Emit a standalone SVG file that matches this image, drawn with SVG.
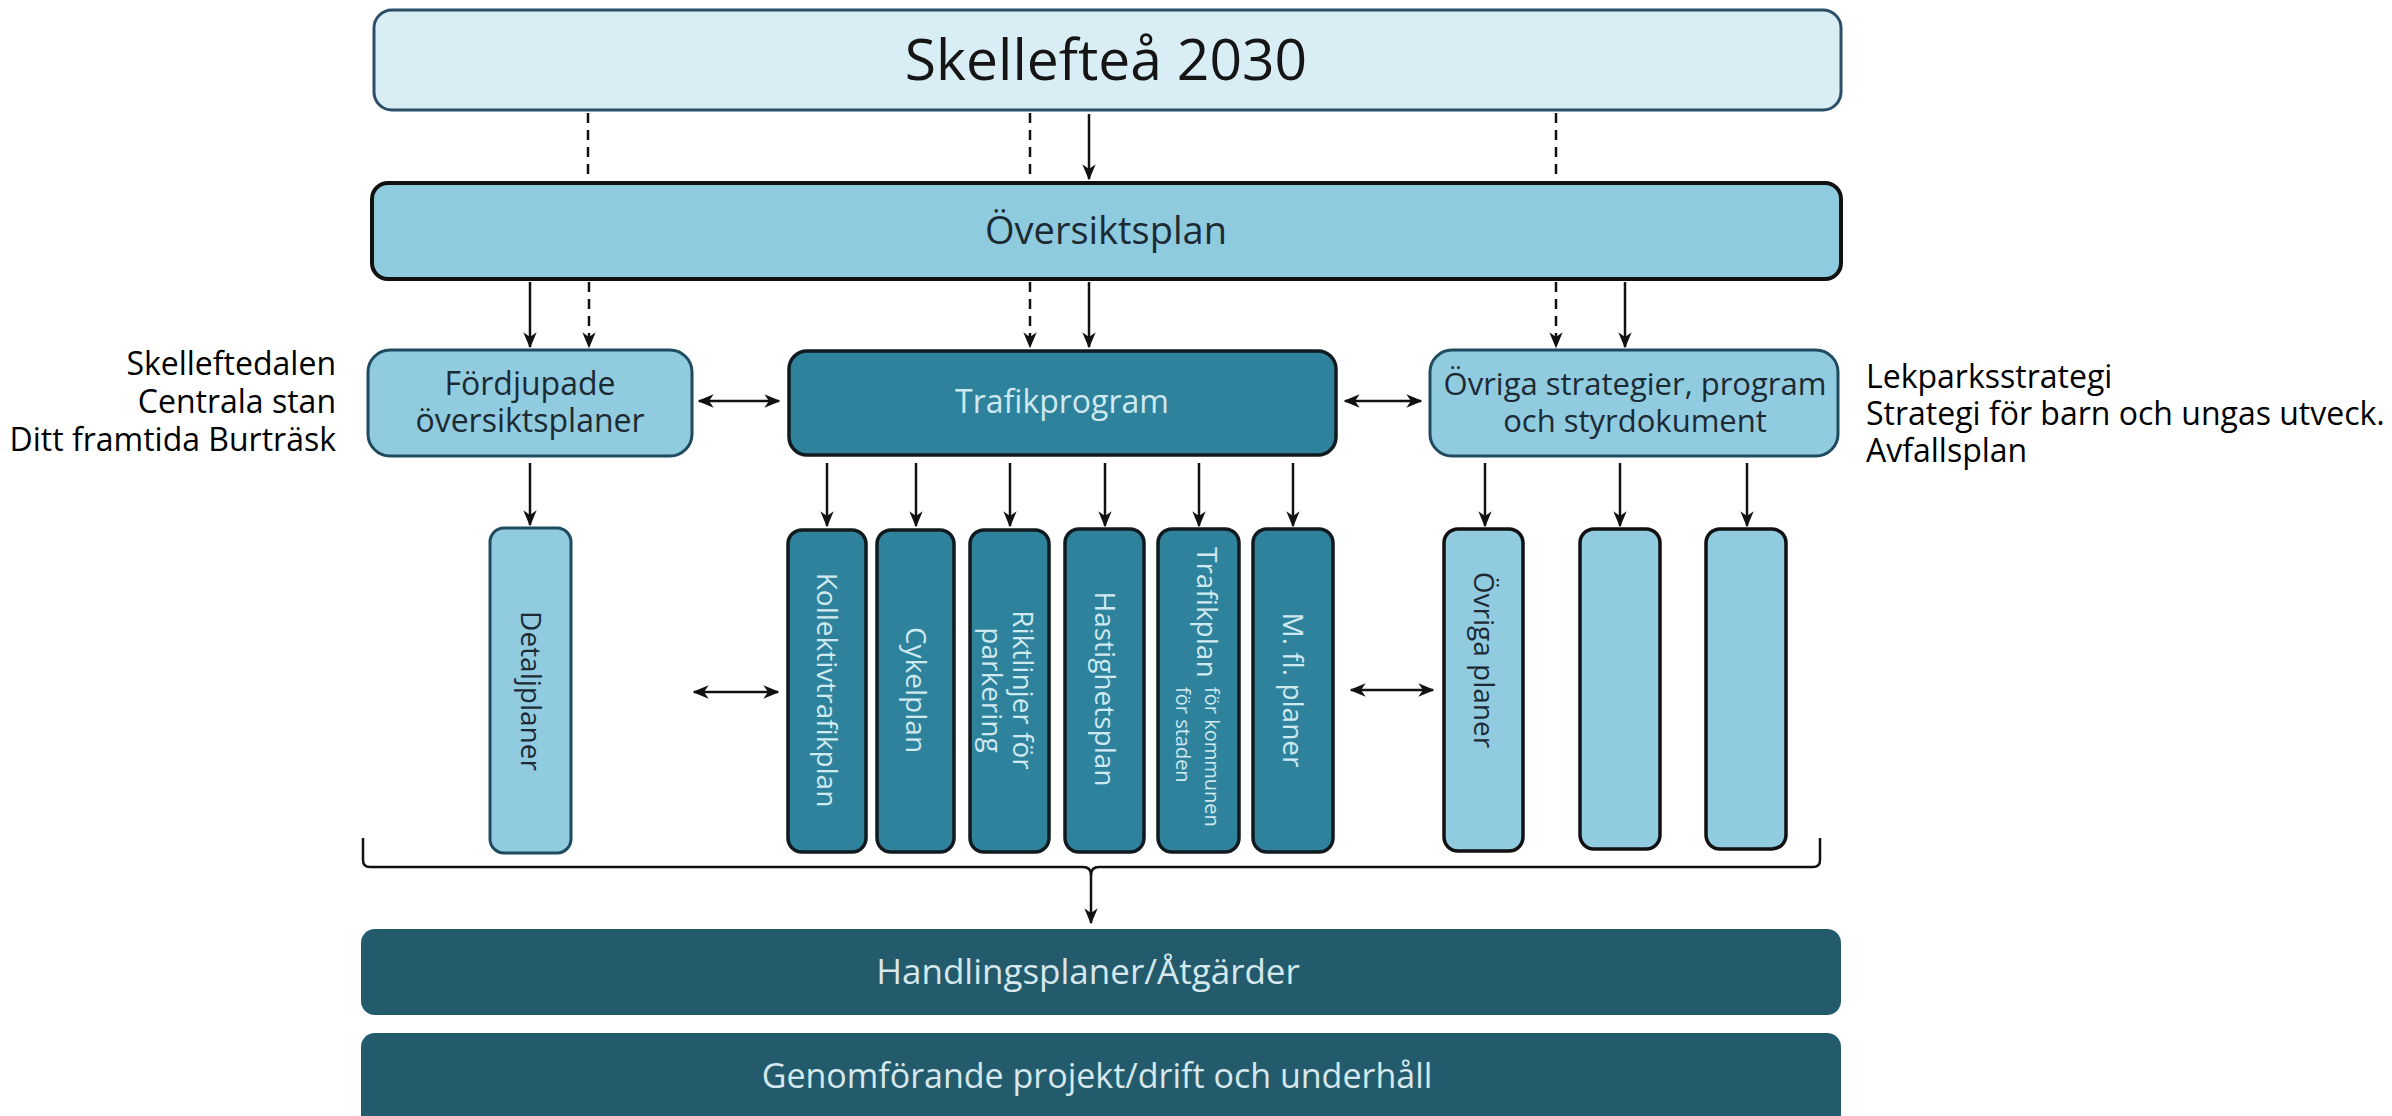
<svg xmlns="http://www.w3.org/2000/svg" width="2392" height="1116" viewBox="0 0 2392 1116">
<style>
  text { font-family: "Open Sans", "Noto Sans", "DejaVu Sans", sans-serif; }
  .light { fill: #90cbe0; stroke: #1f4b5f; stroke-width: 3; }
  .teal { fill: #2e829c; stroke: #111a1f; stroke-width: 3.5; }
  .dark { fill: #235b6c; stroke: none; }
  .tl { fill: #cfe9f0; }
  .td { fill: #1c2a33; }
  .side { font-size: 32px; fill: #000; }
  .vt { font-size: 28px; text-anchor: middle; }
  .conn { stroke: #111; stroke-width: 2.5; fill: none; }
  .dash { stroke-dasharray: 10 7; }
</style>
<defs>
  <marker id="ah" viewBox="0 0 12 10" markerWidth="16" markerHeight="14" refX="11" refY="5" orient="auto-start-reverse" markerUnits="userSpaceOnUse">
    <path d="M0,0 L12,5 L0,10 L3.5,5 z" fill="#111"/>
  </marker>
</defs>

<g id="connectors">
  <line class="conn dash" x1="588" y1="113" x2="588" y2="183"/>
  <line class="conn dash" x1="1030" y1="113" x2="1030" y2="183"/>
  <line class="conn dash" x1="1556" y1="113" x2="1556" y2="183"/>
  <line class="conn" x1="1089" y1="114" x2="1089" y2="179" marker-end="url(#ah)"/>
  <line class="conn" x1="530" y1="282" x2="530" y2="347" marker-end="url(#ah)"/>
  <line class="conn dash" x1="589" y1="282" x2="589" y2="347" marker-end="url(#ah)"/>
  <line class="conn dash" x1="1030" y1="282" x2="1030" y2="347" marker-end="url(#ah)"/>
  <line class="conn" x1="1089" y1="282" x2="1089" y2="347" marker-end="url(#ah)"/>
  <line class="conn dash" x1="1556" y1="282" x2="1556" y2="347" marker-end="url(#ah)"/>
  <line class="conn" x1="1625" y1="282" x2="1625" y2="347" marker-end="url(#ah)"/>
  <line class="conn" x1="699" y1="401" x2="779" y2="401" marker-start="url(#ah)" marker-end="url(#ah)"/>
  <line class="conn" x1="1345" y1="401" x2="1421" y2="401" marker-start="url(#ah)" marker-end="url(#ah)"/>
  <line class="conn" x1="694" y1="692" x2="778" y2="692" marker-start="url(#ah)" marker-end="url(#ah)"/>
  <line class="conn" x1="1351" y1="690" x2="1433" y2="690" marker-start="url(#ah)" marker-end="url(#ah)"/>
  <line class="conn" x1="530" y1="463" x2="530" y2="525" marker-end="url(#ah)"/>
  <line class="conn" x1="827" y1="463" x2="827" y2="526" marker-end="url(#ah)"/>
  <line class="conn" x1="916" y1="463" x2="916" y2="526" marker-end="url(#ah)"/>
  <line class="conn" x1="1010" y1="463" x2="1010" y2="526" marker-end="url(#ah)"/>
  <line class="conn" x1="1105" y1="463" x2="1105" y2="526" marker-end="url(#ah)"/>
  <line class="conn" x1="1199" y1="463" x2="1199" y2="526" marker-end="url(#ah)"/>
  <line class="conn" x1="1293" y1="463" x2="1293" y2="526" marker-end="url(#ah)"/>
  <line class="conn" x1="1485" y1="463" x2="1485" y2="526" marker-end="url(#ah)"/>
  <line class="conn" x1="1620" y1="463" x2="1620" y2="526" marker-end="url(#ah)"/>
  <line class="conn" x1="1747" y1="463" x2="1747" y2="526" marker-end="url(#ah)"/>
  <path class="conn" d="M363,838 V860 Q363,867 370,867 H1083 Q1091,867 1091,875 Q1091,867 1099,867 H1813 Q1820,867 1820,860 V838"/>
  <line class="conn" x1="1091" y1="874" x2="1091" y2="923" marker-end="url(#ah)"/>
</g>

<g id="skelleftea2030">
  <rect x="374" y="10" width="1467" height="100" rx="18" fill="#d9edf4" stroke="#2b4f68" stroke-width="3"/>
  <text x="1106" y="80" font-size="57" text-anchor="middle" fill="#151515">Skellefteå 2030</text>
</g>

<g id="oversiktsplan">
  <rect x="372" y="183" width="1469" height="96" rx="16" fill="#8fcbdf" stroke="#111" stroke-width="4"/>
  <text x="1106" y="244" font-size="38" text-anchor="middle" fill="#1c2a33">Översiktsplan</text>
</g>

<g id="fordjupade">
  <rect class="light" x="368" y="350" width="324" height="106" rx="22"/>
  <text class="td" x="530" y="395" font-size="32" text-anchor="middle">Fördjupade</text>
  <text class="td" x="530" y="432" font-size="32" text-anchor="middle">översiktsplaner</text>
</g>

<g id="trafikprogram">
  <rect class="teal" x="789" y="351" width="547" height="104" rx="18"/>
  <text class="tl" x="1062" y="413" font-size="32" text-anchor="middle">Trafikprogram</text>
</g>

<g id="ovriga-strategier">
  <rect class="light" x="1430" y="350" width="408" height="106" rx="22"/>
  <text class="td" x="1635" y="395" font-size="31" text-anchor="middle">Övriga strategier, program</text>
  <text class="td" x="1635" y="432" font-size="31" text-anchor="middle">och styrdokument</text>
</g>

<g id="left-notes">
  <text class="side" x="336" y="375" text-anchor="end">Skelleftedalen</text>
  <text class="side" x="336" y="413" text-anchor="end">Centrala stan</text>
  <text class="side" x="336" y="451" text-anchor="end">Ditt framtida Burträsk</text>
</g>

<g id="right-notes">
  <text class="side" x="1866" y="388">Lekparksstrategi</text>
  <text class="side" x="1866" y="425">Strategi för barn och ungas utveck.</text>
  <text class="side" x="1866" y="462">Avfallsplan</text>
</g>

<g id="detaljplaner">
  <rect class="light" x="490" y="528" width="81" height="325" rx="14"/>
  <text class="vt td" transform="translate(530.5,691) rotate(90)" y="10">Detaljplaner</text>
</g>

<g id="kollektivtrafikplan">
  <rect class="teal" x="788" y="530" width="78" height="322" rx="14" stroke-width="4.5"/>
  <text class="vt tl" transform="translate(827,690) rotate(90)" y="10">Kollektivtrafikplan</text>
</g>

<g id="cykelplan">
  <rect class="teal" x="877" y="530" width="77" height="322" rx="14"/>
  <text class="vt tl" transform="translate(915.5,690) rotate(90)" y="10">Cykelplan</text>
</g>

<g id="riktlinjer">
  <rect class="teal" x="970" y="530" width="79" height="322" rx="14"/>
  <text class="vt tl" transform="translate(1010,690) rotate(90)" y="-3">Riktlinjer för</text>
  <text class="vt tl" transform="translate(1010,690) rotate(90)" y="28">parkering</text>
</g>

<g id="hastighetsplan">
  <rect class="teal" x="1065" y="529" width="79" height="323" rx="14"/>
  <text class="vt tl" transform="translate(1104.5,689) rotate(90)" y="10">Hastighetsplan</text>
</g>

<g id="trafikplan">
  <rect class="teal" x="1158" y="529" width="81" height="323" rx="14"/>
  <g transform="translate(1198,0) rotate(90)" class="tl">
    <text x="547" y="1" font-size="28">Trafikplan</text>
    <text x="687" y="-7" font-size="20">för kommunen</text>
    <text x="687" y="22" font-size="20">för staden</text>
  </g>
</g>

<g id="mflplaner">
  <rect class="teal" x="1253" y="529" width="80" height="323" rx="14"/>
  <text class="vt tl" transform="translate(1293,690) rotate(90)" y="10">M. fl. planer</text>
</g>

<g id="ovriga-planer">
  <rect x="1444" y="529" width="79" height="322" rx="14" fill="#90cbe0" stroke="#111" stroke-width="3.5"/>
  <text class="vt td" transform="translate(1483.5,660) rotate(90)" y="10">Övriga planer</text>
</g>

<g id="ovrig-plan-2">
  <rect x="1580" y="529" width="80" height="320" rx="14" fill="#90cbe0" stroke="#111" stroke-width="3.5"/>
</g>

<g id="ovrig-plan-3">
  <rect x="1706" y="529" width="80" height="320" rx="14" fill="#90cbe0" stroke="#111" stroke-width="3.5"/>
</g>

<g id="handlingsplaner">
  <rect class="dark" x="361" y="929" width="1480" height="86" rx="14"/>
  <text x="1088" y="984" font-size="35" text-anchor="middle" fill="#d6e8ed">Handlingsplaner/Åtgärder</text>
</g>

<g id="genomforande">
  <rect class="dark" x="361" y="1033" width="1480" height="95" rx="14"/>
  <text x="1097" y="1088" font-size="34" text-anchor="middle" fill="#d6e8ed">Genomförande projekt/drift och underhåll</text>
</g>
</svg>
